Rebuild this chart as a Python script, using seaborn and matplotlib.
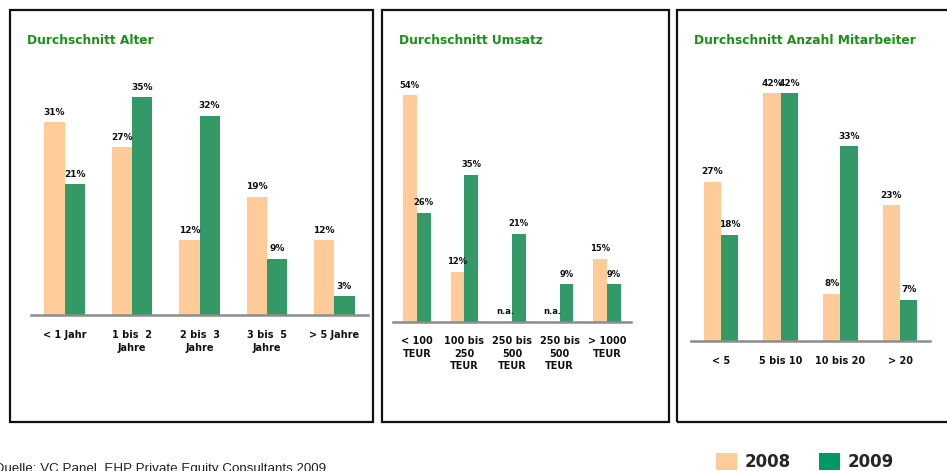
import numpy as np
import pandas as pd
import matplotlib
matplotlib.use("Agg")
import matplotlib.pyplot as plt
from matplotlib.patches import Rectangle, Patch
import seaborn as sns

# ---------------- data ----------------
years = ["2008", "2009"]

alter_cats = ["< 1 Jahr", "1 bis  2\nJahre", "2 bis  3\nJahre", "3 bis  5\nJahre", "> 5 Jahre"]
alter_2008 = [31, 27, 12, 19, 12]
alter_2009 = [21, 35, 32, 9, 3]

umsatz_cats = ["< 100\nTEUR", "100 bis\n250\nTEUR", "250 bis\n500\nTEUR", "250 bis\n500\nTEUR", "> 1000\nTEUR"]
umsatz_2008 = [54, 12, None, None, 15]
umsatz_2009 = [26, 35, 21, 9, 9]

mitarb_cats = ["< 5", "5 bis 10", "10 bis 20", "> 20"]
mitarb_2008 = [27, 42, 8, 23]
mitarb_2009 = [18, 42, 33, 7]

titles = ["Durchschnitt Alter", "Durchschnitt Umsatz", "Durchschnitt Anzahl Mitarbeiter"]
source = "Quelle: VC Panel, EHP Private Equity Consultants 2009"

# ---------------- style ----------------
sns.set_style("white")
plt.rcParams["font.family"] = ["DejaVu Sans"]

C2008 = "#FFCC99"
C2009 = "#339966"
L2009 = "#009966"
TITLE_GREEN = "#1A8F1A"
AXIS_GRAY = "#8C8C8C"

W, H = 947, 471
fig = plt.figure(figsize=(W / 100, H / 100), dpi=100)


def px_rect(x0, y0, x1, y1):
    """pixel box (top-left origin) -> figure fraction [l, b, w, h]"""
    return [x0 / W, 1 - y1 / H, (x1 - x0) / W, (y1 - y0) / H]


# panel frames
for (x0, y0, x1, y1) in [(10, 10, 373, 422), (382, 10, 669, 422), (677, 10, 955, 422)]:
    l, b, w, h = px_rect(x0, y0, x1, y1)
    fig.patches.append(Rectangle((l, b), w, h, transform=fig.transFigure,
                                 fill=False, edgecolor="#111111", linewidth=1.6))


def make_df(cats, v08, v09):
    rows = []
    for i, c in enumerate(cats):
        rows.append({"pos": str(i), "year": "2008", "value": v08[i]})
        rows.append({"pos": str(i), "year": "2009", "value": v09[i]})
    df = pd.DataFrame(rows)
    df["label"] = df["value"].apply(lambda v: "n.a." if v is None or pd.isna(v) else f"{int(v)}%")
    df["value"] = pd.to_numeric(df["value"]).fillna(0)
    return df


panels = [
    (alter_cats, alter_2008, alter_2009, (31, 70, 368, 315), 6.22, 0.6, 6.5, 11),
    (umsatz_cats, umsatz_2008, umsatz_2009, (393, 70, 631, 322), 4.2, 0.58, 6.0, 10),
    (mitarb_cats, mitarb_2008, mitarb_2009, (691, 70, 930, 341), 5.9, 0.58, 6.5, 11),
]

for k, (cats, v08, v09, box, pxper, width, vfs, pad) in enumerate(panels):
    x0, y0, x1, y1 = box
    ax = fig.add_axes(px_rect(x0, y0, x1, y1))
    ax.set_facecolor("none")
    df = make_df(cats, v08, v09)
    order = [str(i) for i in range(len(cats))]
    sns.barplot(data=df, x="pos", y="value", hue="year", order=order, hue_order=years,
                palette=[C2008, C2009], width=width, saturation=1, legend=False,
                errorbar=None, ax=ax, linewidth=0)
    n = len(cats)
    ax.set_xlim(-0.5, n - 0.5)
    ax.set_ylim(0, (y1 - y0) / pxper)
    # value labels
    for year, cont in zip(years, ax.containers):
        labs = df[df["year"] == year]["label"].tolist()
        for bar, lab in zip(cont, labs):
            ax.annotate(lab, (bar.get_x() + bar.get_width() / 2, bar.get_height()),
                        xytext=(0, 4), textcoords="offset points", ha="center", va="bottom",
                        fontsize=vfs, fontweight="bold", color="#111111")
    for s in ["top", "left", "right"]:
        ax.spines[s].set_visible(False)
    ax.spines["bottom"].set_color(AXIS_GRAY)
    ax.spines["bottom"].set_linewidth(1.8)
    ax.set_yticks([])
    ax.set_xticks(range(n))
    ax.set_xticklabels(cats, fontsize=7, fontweight="bold", color="#111111", linespacing=1.35)
    ax.tick_params(axis="x", which="major", length=0, pad=pad)
    ax.set_xticks(np.arange(-0.5, n), minor=True)
    ax.tick_params(axis="x", which="minor", length=3.5, width=1.5, color=AXIS_GRAY, direction="out")
    ax.set_xlabel("")
    ax.set_ylabel("")

# titles
for (tx, ty), t in zip([(27, 40), (399, 40), (694, 40)], titles):
    fig.text(tx / W, 1 - ty / H, t, color=TITLE_GREEN, fontsize=8.8, fontweight="bold",
             ha="left", va="center")

# legend
handles = [Patch(facecolor=C2008, edgecolor="none"), Patch(facecolor=L2009, edgecolor="none")]
fig.legend(handles, years, loc="center left", bbox_to_anchor=(716 / W, 1 - 462 / H),
           ncol=2, frameon=False, prop={"weight": "bold", "size": 12},
           handlelength=1.25, handleheight=1.2, handletextpad=0.45, columnspacing=1.7,
           borderpad=0, borderaxespad=0)

# source
fig.text(-6 / W, 1 - 469 / H, source, fontsize=9.6, family="Liberation Sans", color="#222222",
         ha="left", va="center")

fig.savefig("out.png", dpi=100)
